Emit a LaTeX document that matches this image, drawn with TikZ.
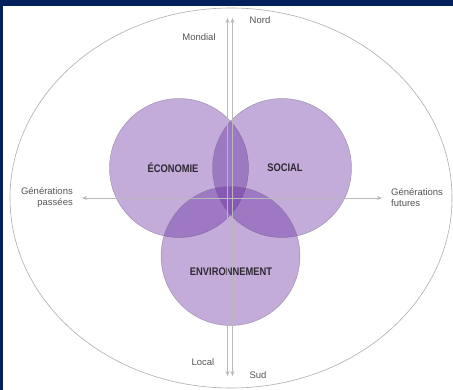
\documentclass[tikz,border=0pt]{standalone}
\usepackage{fontspec}
\setmainfont{Liberation Sans}
\newfontfamily\condbold[FakeStretch=0.85]{Liberation Sans Bold}
\usetikzlibrary{arrows.meta}
\definecolor{navy}{RGB}{2,32,92}
\definecolor{venn}{RGB}{98,38,158}
\definecolor{axisgray}{RGB}{185,185,188}
\definecolor{ellgray}{RGB}{175,175,175}
\definecolor{txtgray}{RGB}{85,85,85}
\definecolor{lbl}{RGB}{45,40,50}
\tikzset{
  vennc/.style={circle, minimum size=139pt, inner sep=0pt, fill=venn, fill opacity=0.38, draw={rgb,255:red,120;green,105;blue,135}, draw opacity=0.55, line width=0.5pt},
  axis/.style={draw=axisgray, line width=0.7pt, {Stealth[length=5pt,width=4pt]}-{Stealth[length=5pt,width=4pt]}},
  axistip/.style={draw=axisgray, line width=0.7pt, -{Stealth[length=5pt,width=4pt]}},
  small/.style={font=\fontsize{9.5}{11}\selectfont, text=txtgray, inner sep=0pt},
  biglbl/.style={font=\condbold\fontsize{11}{13}\selectfont, text=lbl, inner sep=0pt}
}
\begin{document}
\begin{tikzpicture}[x=1pt,y=-1pt]
\useasboundingbox (0,0) rectangle (453,390);
\fill[navy] (0,0) rectangle (453,390);
\fill[white] (3,6) rectangle (453,390);
% outer ellipse
\draw[ellgray, line width=0.6pt] (231,198) ellipse [x radius=221pt, y radius=190pt];
% Venn circles
\node[vennc] (eco) at (179,168) {};
\node[vennc] (soc) at (282,168) {};
\node[vennc] (env) at (230.5,256) {};
\node[biglbl] (ecol) at (173,168) {ÉCONOMIE};
\node[biglbl] (socl) at (285,168) {SOCIAL};
\node[biglbl] (envl) at (231,272) {ENVIRONNEMENT};
% axes
\coordinate (vtopA) at (227.5,18);
\coordinate (vbotA) at (227.5,376);
\coordinate (vtopB) at (232.5,18);
\coordinate (vbotB) at (232.5,376);
\coordinate (hleft) at (82,198);
\coordinate (hright) at (382,198);
\draw[axis] (vtopA) -- (vbotA);
\draw[axis] (vtopB) -- (vbotB);
\draw[axis] (hleft) -- (hright);
% texts
\node[small] (nord) at (260,20) {Nord};
\node[small] (mondial) at (199,37) {Mondial};
\node[small] (local) at (203,362) {Local};
\node[small] (sud) at (258,375) {Sud};
\node[small, align=right, anchor=east] (gp) at (73,197.5) {Générations\\passées};
\node[small, align=left, anchor=west] (gf) at (391,197.5) {Générations\\futures};
\end{tikzpicture}
\end{document}
